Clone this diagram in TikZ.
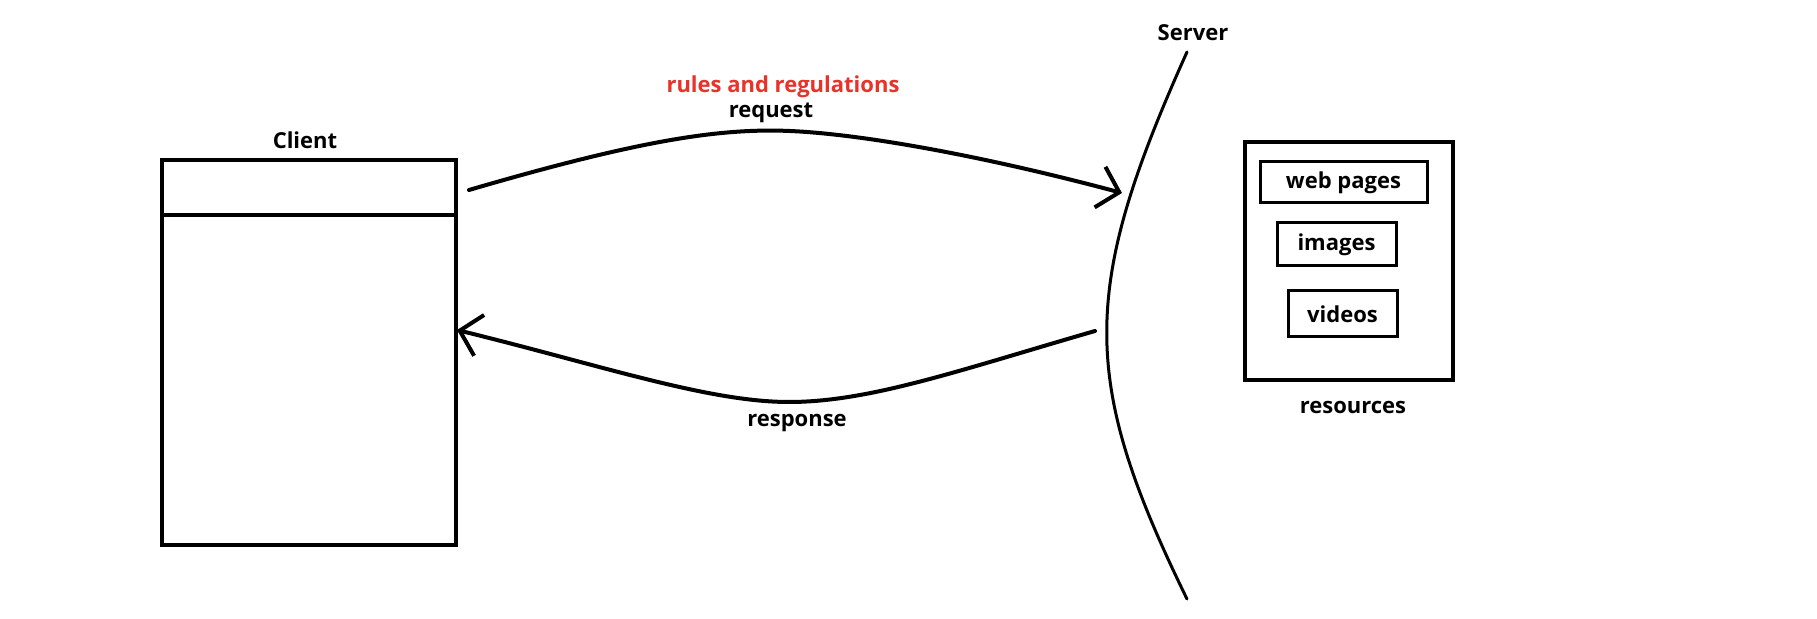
\documentclass[tikz,border=0pt]{standalone}
\usepackage{fontspec}
\setmainfont{Open Sans}
\usepackage{xcolor}
\usepackage{tikz}
\usetikzlibrary{arrows.meta}
\definecolor{rulered}{RGB}{232,50,42}

\begin{document}
\begin{tikzpicture}[line width=2pt,x=0.5pt,y=-0.5pt,line cap=round,font=\bfseries\fontsize{11}{13}\selectfont,>={Straight Barb[length=10pt,width=21pt]}]
\useasboundingbox (0,0) rectangle (1817,619);

\node (C1)[rectangle,minimum width=147pt,minimum height=27.5pt,draw] at (309,187.5) {};
\node (C2)[rectangle,minimum width=147pt,minimum height=165pt,draw] at (309,380) {};
\node (CL) at (305,140) {Client};

\node (R)[rectangle,minimum width=104pt,minimum height=119pt,draw] at (1349,261) {};
\node (R1)[rectangle,minimum width=83.5pt,minimum height=20.5pt,draw,line width=1.5pt] at (1343.5,182.5) {web pages};
\node (R2)[rectangle,minimum width=59.5pt,minimum height=21.5pt,draw,line width=1.5pt] at (1336.5,244.5) {images};
\node (R3)[rectangle,minimum width=54.5pt,minimum height=23pt,draw,line width=1.5pt] at (1342.5,314) {videos};
\node (RL) at (1353,407) {resources};

\coordinate (S1) at (1187,52);
\coordinate (S2) at (1187,599);
\draw[line width=1.5pt] (S1) .. controls (1080,290) and (1080,380) .. (S2);
\node (SL) at (1193,33) {Server};

\coordinate (Q1) at (469,190);
\coordinate (Q2) at (1122,193);
\draw[->] (Q1) .. controls (640,140) and (720,128) .. (790,131) .. controls (860,134) and (980,155) .. (Q2);
\node (QL) at (771,113) {request};
\node (QR)[text=rulered] at (783,87) {rules and regulations};

\coordinate (P1) at (1095,331);
\coordinate (P2) at (457,330);
\draw[->] (P1) .. controls (960,370) and (870,402) .. (789,402) .. controls (708,402) and (600,365) .. (P2);
\node (PL) at (797,423) {response};
\end{tikzpicture}
\end{document}
